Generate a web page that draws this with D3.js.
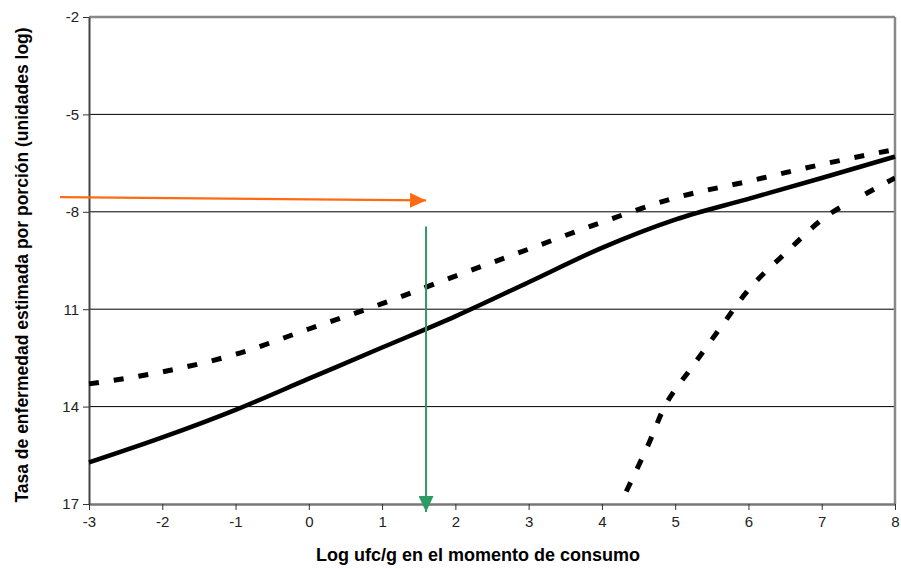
<!DOCTYPE html>
<html>
<head>
<meta charset="utf-8">
<script src="https://cdn.jsdelivr.net/npm/d3@7"></script>
<style>
  body { margin: 0; background: #fff; }
  .tick text { font-family: "Liberation Sans Narrow", "Arial Narrow", Arial, sans-serif; font-size: 15px; fill: #222; }
  .axis-label { font-family: "Liberation Sans", Arial, sans-serif; font-weight: bold; fill: #000; }
</style>
</head>
<body>
<div id="chart"></div>
<script>
// x positions (log ufc/g)
const xValues = [-3, -2, -1, 0, 1, 2, 3, 4, 5, 6, 7, 8];
// solid line (central estimate)
const solidValues = [-15.72, -14.95, -14.1, -13.14, -12.18, -11.22, -10.17, -9.11, -8.24, -7.6, -6.96, -6.3];
// upper dashed line
const upperValues = [-13.3, -12.93, -12.39, -11.61, -10.83, -9.98, -9.15, -8.32, -7.57, -7.06, -6.54, -6.08];
// lower dashed line (steep)
const lowerX = [4.25, 4.62, 4.89, 5.24, 5.64, 6.02, 6.53, 7.05, 7.62, 8];
const lowerValues = [-17.0, -15.24, -13.86, -12.75, -11.5, -10.35, -9.22, -8.16, -7.42, -6.96];
// y tick labels as printed in the original
const yTicks = [-2, -5, -8, -11, -14, -17];
const yTickLabels = ["-2", "-5", "-8", "11", "14", "17"];
// reference arrows
const orangeArrow = { y0: -7.55, y1: -7.65, xEnd: 1.6 };
const greenArrow = { x: 1.6, yStart: -8.45 };

const margin = {top: 17, right: 6, bottom: 65, left: 89},
      width = 901 - margin.left - margin.right,
      height = 569 - margin.top - margin.bottom;

const svg = d3.select("#chart")
  .append("svg")
    .attr("width", 901)
    .attr("height", 569)
  .append("g")
    .attr("transform", `translate(${margin.left},${margin.top})`);

const x = d3.scaleLinear().domain([-3, 8]).range([0, width]);
const y = d3.scaleLinear().domain([-2, -17]).range([0, height]);

// gridlines
svg.append("g")
  .selectAll("line")
  .data(yTicks.slice(1, -1))
  .enter().append("line")
    .attr("x1", 0).attr("x2", width)
    .attr("y1", d => y(d)).attr("y2", d => y(d))
    .attr("stroke", "#000")
    .attr("stroke-width", 1);

// top and right border
svg.append("line")
  .attr("x1", 0).attr("x2", width)
  .attr("y1", 0).attr("y2", 0)
  .attr("stroke", "#888").attr("stroke-width", 2.5);
svg.append("line")
  .attr("x1", width).attr("x2", width)
  .attr("y1", 0).attr("y2", height)
  .attr("stroke", "#888").attr("stroke-width", 2.5);

// x axis
const xAxis = svg.append("g")
  .attr("transform", `translate(0,${height})`)
  .call(d3.axisBottom(x).tickValues(xValues).tickFormat(d => String(d))
    .tickSize(6).tickSizeOuter(0).tickPadding(6));
xAxis.select(".domain").attr("stroke", "#777").attr("stroke-width", 2.5);
xAxis.selectAll(".tick line").attr("stroke", "#333");

// y axis
const yAxis = svg.append("g")
  .call(d3.axisLeft(y).tickValues(yTicks).tickFormat((d, i) => yTickLabels[i])
    .tickSize(6).tickSizeOuter(0).tickPadding(4));
yAxis.select(".domain").attr("stroke", "#444").attr("stroke-width", 2);
yAxis.selectAll(".tick line").attr("stroke", "#333");

const line = d3.line().x(d => x(d[0])).y(d => y(d[1])).curve(d3.curveMonotoneX);
const smoothLine = d3.line().x(d => x(d[0])).y(d => y(d[1])).curve(d3.curveCatmullRom.alpha(0.5));

const plot = svg.append("g");
plot.append("clipPath").attr("id", "clip")
  .append("rect").attr("width", width).attr("height", height);

plot.append("path")
  .datum(xValues.map((v, i) => [v, upperValues[i]]))
  .attr("d", line)
  .attr("fill", "none").attr("stroke", "#000")
  .attr("stroke-width", 5).attr("stroke-dasharray", "10,15");

plot.append("path")
  .datum(xValues.map((v, i) => [v, solidValues[i]]))
  .attr("d", line)
  .attr("fill", "none").attr("stroke", "#000")
  .attr("stroke-width", 4.5);

plot.append("path")
  .datum(lowerX.map((v, i) => [v, lowerValues[i]]))
  .attr("d", smoothLine)
  .attr("clip-path", "url(#clip)")
  .attr("fill", "none").attr("stroke", "#000")
  .attr("stroke-width", 5).attr("stroke-dasharray", "0,14,10,15,10,15,10,15,10,15,10,15,10,15,10,15,10,15,10,15,10,15,10,15,10,15,10,15,10,15,10,15");

// arrows
const defs = svg.append("defs");
[["ahOrange", "#ff6a13"], ["ahGreen", "#2e9a64"]].forEach(([id, c]) => {
  defs.append("marker").attr("id", id)
    .attr("viewBox", "0 0 16 15").attr("refX", 16).attr("refY", 7.5)
    .attr("markerWidth", 16).attr("markerHeight", 15)
    .attr("markerUnits", "userSpaceOnUse")
    .attr("orient", "auto")
    .append("path").attr("d", "M0,0L16,7.5L0,15Z").attr("fill", c);
});

svg.append("line")
  .attr("x1", -29).attr("y1", y(orangeArrow.y0))
  .attr("x2", x(orangeArrow.xEnd)).attr("y2", y(orangeArrow.y1))
  .attr("stroke", "#ff6a13").attr("stroke-width", 2.2)
  .attr("marker-end", "url(#ahOrange)");

svg.append("line")
  .attr("x1", x(greenArrow.x)).attr("y1", y(greenArrow.yStart))
  .attr("x2", x(greenArrow.x)).attr("y2", height + 8)
  .attr("stroke", "#2e9a64").attr("stroke-width", 2)
  .attr("marker-end", "url(#ahGreen)");

// axis labels
svg.append("text")
  .attr("class", "axis-label")
  .attr("x", 478 - margin.left)
  .attr("y", height + 57)
  .attr("text-anchor", "middle")
  .style("font-size", "18px")
  .text("Log ufc/g en el momento de consumo");

svg.append("text")
  .attr("class", "axis-label")
  .attr("transform", "rotate(-90)")
  .attr("x", -(265 - margin.top))
  .attr("y", -89 + 28)
  .attr("text-anchor", "middle")
  .style("font-size", "17.5px")
  .text("Tasa de enfermedad estimada por porción (unidades log)");
</script>
</body>
</html>
